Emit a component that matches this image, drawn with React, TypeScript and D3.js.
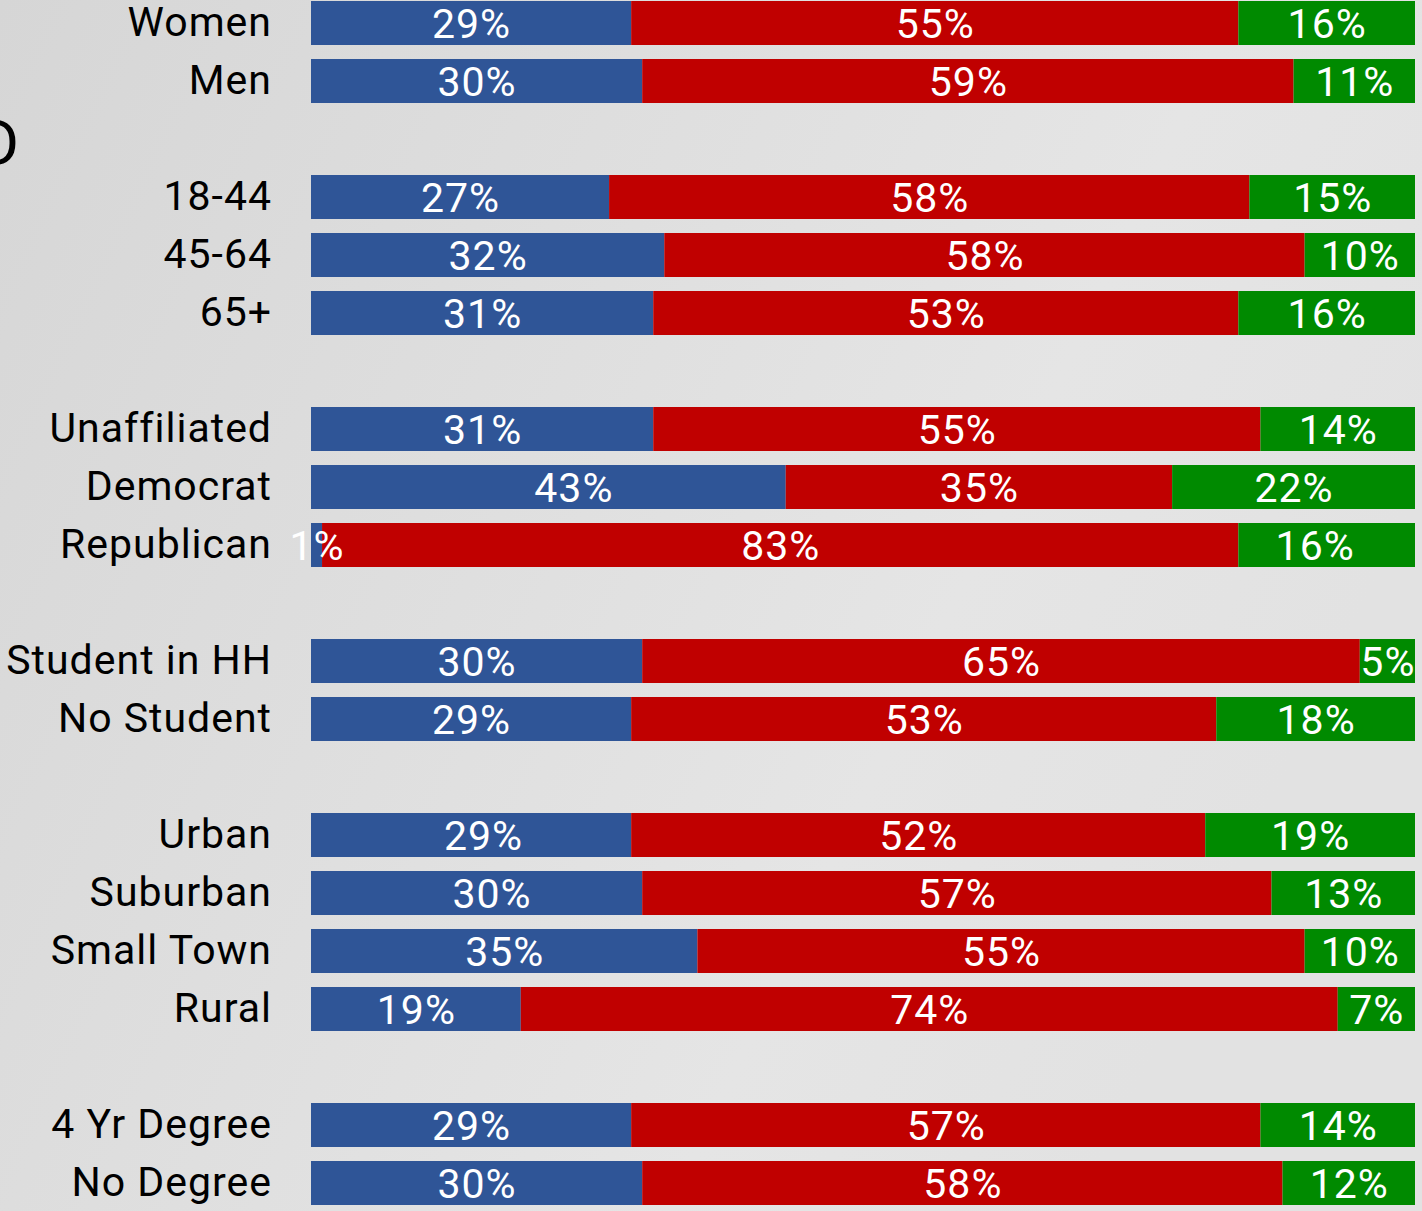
import React from "react";
import * as d3 from "d3";

const categories = [
  "Women", "Men", "",
  "18-44", "45-64", "65+", "",
  "Unaffiliated", "Democrat", "Republican", "",
  "Student in HH", "No Student", "",
  "Urban", "Suburban", "Small Town", "Rural", "",
  "4 Yr Degree", "No Degree",
];
const blueValues = [29, 30, null, 27, 32, 31, null, 31, 43, 1, null, 30, 29, null, 29, 30, 35, 19, null, 29, 30];
const redValues = [55, 59, null, 58, 58, 53, null, 55, 35, 83, null, 65, 53, null, 52, 57, 55, 74, null, 57, 58];
const greenValues = [16, 11, null, 15, 10, 16, null, 14, 22, 16, null, 5, 18, null, 19, 13, 10, 7, null, 14, 12];
const seriesColors = ["#2f5597", "#c00000", "#008a00"];

const W = 1422;
const H = 1211;

// small horizontal nudges of individual value labels, as placed in the original (row:series -> px)
const labelNudge: Record<string, number> = { "8:0": 25, "14:0": 12, "15:0": 15, "9:2": -12 };

export default function App() {
  const keys = categories.map((c, i) => `${i}`);
  const y = d3.scaleBand<string>().domain(keys).range([1, 1205]).paddingInner(14 / 58).paddingOuter(0);
  const x = d3.scaleLinear().domain([0, 100]).range([311, 1415]);
  const series = [blueValues, redValues, greenValues];
  const font = "Roboto, 'Noto Sans', sans-serif";

  return (
    <svg width={W} height={H} style={{ position: "absolute", left: 0, top: 0 }} xmlns="http://www.w3.org/2000/svg">
      <defs>
        <linearGradient id="bg" x1="0" y1="0" x2="1" y2="0.4">
          <stop offset="0" stopColor="#d6d6d6" />
          <stop offset="0.75" stopColor="#e5e5e5" />
          <stop offset="1" stopColor="#e2e2e2" />
        </linearGradient>
      </defs>
      <rect x={0} y={0} width={W} height={H} fill="url(#bg)" />
      <text x={19} y={165} fontFamily={font} fontSize={63} textAnchor="end" fill="#000">D</text>
      {categories.map((cat, i) => {
        if (!cat) return null;
        const yy = y(keys[i])!;
        const bh = y.bandwidth();
        let acc = 0;
        return (
          <g key={i}>
            <text x={272} y={yy + bh / 2 - 1.5} dy="0.355em" fontFamily={font} fontSize={41} letterSpacing={1} textAnchor="end" fill="#000">{cat}</text>
            {series.map((s, si) => {
              const v = s[i] as number;
              const x0 = x(acc);
              acc += v;
              const x1 = x(acc);
              return <rect key={si} x={x0} y={yy} width={x1 - x0} height={bh} fill={seriesColors[si]} />;
            })}
            {(() => {
              let a = 0;
              return series.map((s, si) => {
                const v = s[i] as number;
                const cx = (x(a) + x(a + v)) / 2 + (labelNudge[`${i}:${si}`] || 0);
                a += v;
                return (
                  <text key={si} x={cx + 0.5} y={yy + bh / 2} dy="0.355em" fontFamily={font} fontSize={41} letterSpacing={1} textAnchor="middle" fill="#fff">{`${v}%`}</text>
                );
              });
            })()}
          </g>
        );
      })}
    </svg>
  );
}
